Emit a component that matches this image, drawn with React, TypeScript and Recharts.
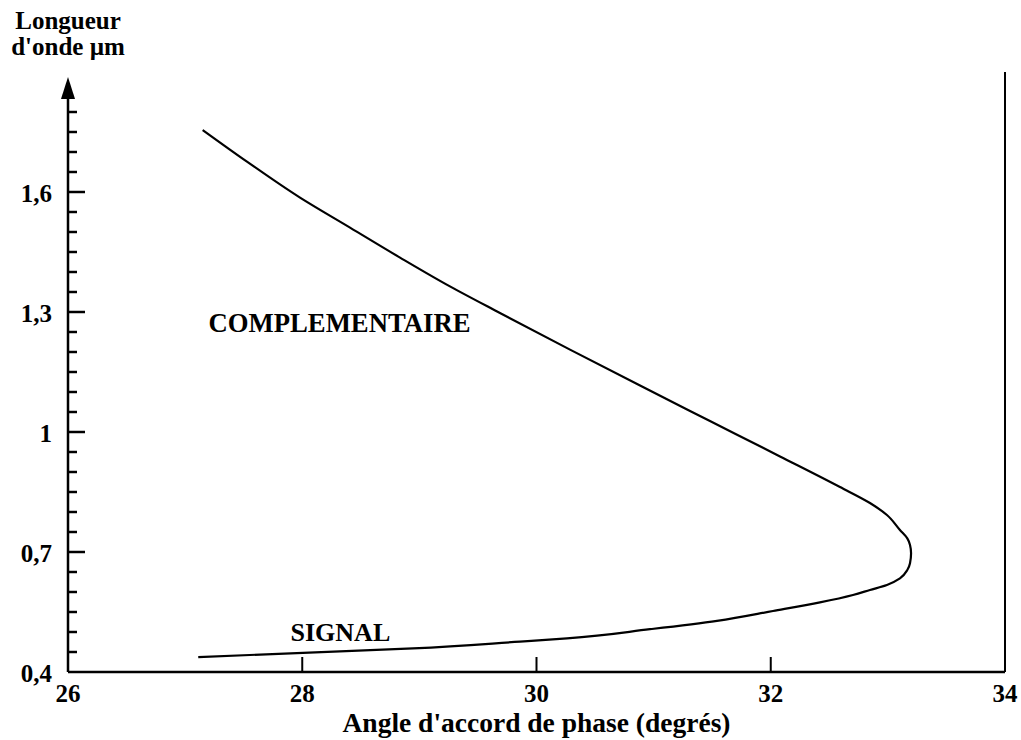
import React from "react";
import { LineChart, Line, XAxis, YAxis, ReferenceLine, ReferenceDot } from "recharts";

// Phase-matching angle (degrees) along the tuning curve: idler (top) branch, turning point, then signal branch
const angle = [
  27.15, 27.528, 27.981, 28.408, 28.835, 29.261, 29.688, 30.286, 30.884, 31.481, 32.079, 32.591, 32.847,
  32.992, 33.103, 33.166, 33.189, 33.198, 33.189, 33.166, 33.103, 32.992, 32.847, 32.702, 32.42, 32.019,
  31.541, 30.969, 30.26, 29.859, 28.946, 28.006, 27.112,
];
// Wavelength (µm)
const wavelength = [
  1.755, 1.676, 1.586, 1.511, 1.436, 1.364, 1.2975, 1.206, 1.116, 1.0275, 0.939, 0.8625, 0.8225, 0.7925,
  0.755, 0.734, 0.7175, 0.697, 0.672, 0.655, 0.634, 0.6175, 0.605, 0.5925, 0.574, 0.5525, 0.528, 0.507,
  0.484, 0.476, 0.459, 0.448, 0.437,
];

const xTicks = [26, 28, 30, 32, 34];
const yMajorTicks = [0.4, 0.7, 1, 1.3, 1.6];
const yTicks = [
  0.4, 0.45, 0.5, 0.55, 0.6, 0.65, 0.7, 0.75, 0.8, 0.85, 0.9, 0.95, 1, 1.05, 1.1, 1.15, 1.2, 1.25, 1.3,
  1.35, 1.4, 1.45, 1.5, 1.55, 1.6, 1.65, 1.7, 1.75, 1.8,
];

const xTitle = "Angle d'accord de phase (degrés)";
const yTitle = ["Longueur", "d'onde µm"];
const idlerLabel = "COMPLEMENTAIRE";
const signalLabel = "SIGNAL";

const data = angle.map((a, i) => ({ angle: a, wavelength: wavelength[i] }));

const FONT = "'Liberation Serif', 'Times New Roman', Times, serif";

const XTick = (props: any) => {
  const { x, y, payload } = props;
  const v = payload.value;
  const edge = v === 26 || v === 34;
  return (
    <g>
      {!edge && <line x1={x} x2={x} y1={y} y2={y - 15} stroke="#000" strokeWidth={2} />}
      <text x={x} y={y + 30} textAnchor="middle" fontFamily={FONT} fontWeight="bold" fontSize={25} fill="#000">
        {v}
      </text>
    </g>
  );
};

const YTick = (props: any) => {
  const { x, y, payload } = props;
  const v = payload.value;
  const major = yMajorTicks.some((m) => Math.abs(m - v) < 1e-6);
  const len = major ? 17 : 9;
  return (
    <g>
      {Math.abs(v - 0.4) > 1e-6 && <line x1={x} x2={x + len} y1={y} y2={y} stroke="#000" strokeWidth={2.5} />}
      {major && (
        <text x={x - 16} y={y + 10} textAnchor="end" fontFamily={FONT} fontWeight="bold" fontSize={25} fill="#000">
          {String(v).replace(".", ",")}
        </text>
      )}
    </g>
  );
};

const textShape = (lines: string[], opts: { anchor: string; dys: number[]; size: number }) => (p: any) => (
  <g>
    {lines.map((t, i) => (
      <text
        key={i}
        x={p.cx}
        y={p.cy + opts.dys[i]}
        textAnchor={opts.anchor as any}
        fontFamily={FONT}
        fontWeight="bold"
        fontSize={opts.size}
        fill="#000"
      >
        {t}
      </text>
    ))}
  </g>
);

const arrowShape = (p: any) => (
  <polygon points={`${p.cx},${p.cy} ${p.cx - 7},${p.cy + 22} ${p.cx + 7},${p.cy + 22}`} fill="#000" />
);

export default function App() {
  return (
    <div style={{ position: "absolute", left: 0, top: 0 }}>
      <LineChart width={1021} height={740} data={data} margin={{ top: 72, right: 16, bottom: 67, left: 67 }}>
        <XAxis
          type="number"
          dataKey="angle"
          domain={[26, 34]}
          ticks={xTicks}
          interval={0}
          height={1}
          tickSize={0}
          tickMargin={0}
          tick={<XTick />}
          tickLine={false}
          axisLine={{ stroke: "#000", strokeWidth: 2.5 }}
          allowDataOverflow
        />
        <YAxis
          type="number"
          domain={[0.4, 1.9]}
          ticks={yTicks}
          interval={0}
          width={1}
          tickSize={0}
          tickMargin={0}
          tick={<YTick />}
          tickLine={false}
          axisLine={false}
          allowDataOverflow
        />
        <ReferenceLine x={34} stroke="#000" strokeWidth={2} ifOverflow="visible" />
        <ReferenceLine
          segment={[
            { x: 26, y: 0.4 },
            { x: 26, y: 1.84 },
          ]}
          stroke="#000"
          strokeWidth={2.5}
          ifOverflow="visible"
        />
        <ReferenceDot x={26} y={1.8875} r={0} ifOverflow="visible" shape={arrowShape} />
        <ReferenceDot
          x={26}
          y={1.9}
          r={0}
          ifOverflow="visible"
          shape={textShape(yTitle, { anchor: "middle", dys: [-43, -17], size: 25 })}
        />
        <ReferenceDot
          x={30}
          y={0.4}
          r={0}
          ifOverflow="visible"
          shape={textShape([xTitle], { anchor: "middle", dys: [60], size: 27.5 })}
        />
        <ReferenceDot
          x={27.2}
          y={1.25}
          r={0}
          ifOverflow="visible"
          shape={textShape([idlerLabel], { anchor: "start", dys: [0], size: 26.7 })}
        />
        <ReferenceDot
          x={27.9}
          y={0.478}
          r={0}
          ifOverflow="visible"
          shape={textShape([signalLabel], { anchor: "start", dys: [0], size: 26 })}
        />
        <Line
          type="monotoneY"
          dataKey="wavelength"
          stroke="#000"
          strokeWidth={2.2}
          dot={false}
          activeDot={false}
          isAnimationActive={false}
        />
      </LineChart>
    </div>
  );
}
